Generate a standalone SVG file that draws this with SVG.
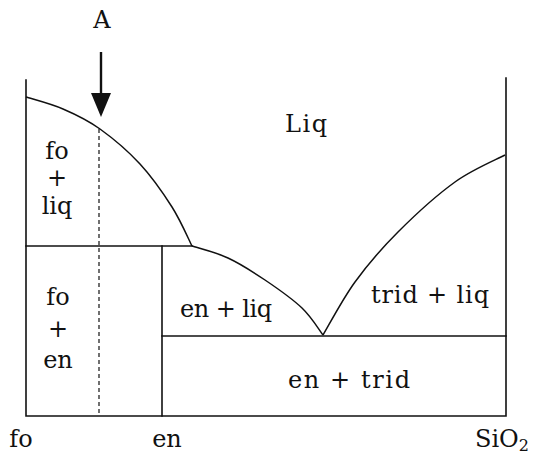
<svg xmlns="http://www.w3.org/2000/svg" width="535" height="455" viewBox="0 0 535 455">
<style>
.ln{stroke:#111;stroke-width:1.6;fill:none;stroke-linecap:square}
.cv{stroke:#111;stroke-width:1.5;fill:none;stroke-linejoin:round}
.dash{stroke:#111;stroke-width:1.2;fill:none;stroke-dasharray:4 3}
text{font-family:"DejaVu Serif","Liberation Serif",serif;font-size:24px;fill:#111}
.c{text-anchor:middle}
</style>
<g id="connectors">
<path class="ln" d="M26,80 V416 H506 V78"/>
<path class="ln" d="M26,246 H192"/>
<path class="ln" d="M162,246 V416"/>
<path class="ln" d="M162,336 H506"/>
<path class="dash" d="M99,129 V416"/>
<path class="cv" d="M26,97 C32.2,99 50.7,103.7 63,109 C75.3,114.3 87.2,119.8 100,129 C112.8,138.2 128,151 140,164 C152,177 163.3,193.3 172,207 C180.7,220.7 188.7,239.5 192,246"/>
<path class="cv" d="M192,246 C198,248 215.8,252.3 228,258 C240.2,263.7 252.7,271.7 265,280 C277.3,288.3 292.3,298.8 302,308 C311.7,317.2 319.5,330.5 323,335"/>
<path class="cv" d="M323,335 C328.3,326.2 342.5,299.2 355,282 C367.5,264.8 381.3,248.7 398,232 C414.7,215.3 437.2,194.8 455,182 C472.8,169.2 496.7,159.5 505,155"/>
<line x1="101" y1="52" x2="101" y2="95" stroke="#111" stroke-width="2.4"/>
<path d="M91,93 L111,93 L101,117 Z" fill="#111"/>
</g>
<g id="label-A"><text class="c" x="102" y="28" font-size="22">A</text></g>
<g id="label-Liq"><text class="c" x="306" y="132" textLength="42" lengthAdjust="spacing">Liq</text></g>
<g id="region-fo-liq">
<text class="c" x="57" y="159">fo</text>
<text class="c" x="57" y="186">+</text>
<text class="c" x="57" y="214">liq</text>
</g>
<g id="region-fo-en">
<text class="c" x="58" y="305">fo</text>
<text class="c" x="58" y="337">+</text>
<text class="c" x="58" y="368">en</text>
</g>
<g id="region-en-liq"><text class="c" x="226" y="317" textLength="92" lengthAdjust="spacing">en + liq</text></g>
<g id="region-trid-liq"><text class="c" x="430" y="303" textLength="118" lengthAdjust="spacing">trid + liq</text></g>
<g id="region-en-trid"><text class="c" x="349" y="388" textLength="122" lengthAdjust="spacing">en + trid</text></g>
<g id="axis-labels">
<text class="c" x="21" y="447">fo</text>
<text class="c" x="167" y="447">en</text>
<text class="c" x="502" y="447">SiO<tspan font-size="16" dy="4">2</tspan></text>
</g>
</svg>
